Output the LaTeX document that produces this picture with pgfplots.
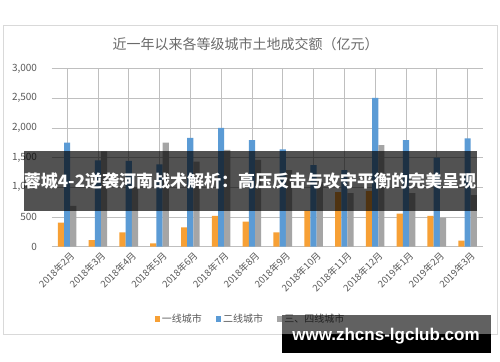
\documentclass[border=0pt]{standalone}
\usepackage{pgfplots}
\pgfplotsset{compat=1.18}
\usepackage{fontspec}
\setmainfont{Noto Sans CJK SC}
\newfontfamily\wmfont{Liberation Sans}
\definecolor{cO}{HTML}{F7A035}
\definecolor{cB}{HTML}{5B9BD5}
\definecolor{cG}{HTML}{A5A5A5}
\definecolor{grid}{HTML}{D9D9D9}
\definecolor{txt}{HTML}{595959}
\definecolor{ttl}{HTML}{6A6A6A}
\begin{document}
\begin{tikzpicture}
\path[use as bounding box, fill=white] (0,0) rectangle (500bp,362bp);
\draw[grid] (3bp,28bp) rectangle (497bp,337bp);
\node[text=ttl, font=\fontsize{14bp}{16bp}\selectfont] at (245.5bp,318bp) {近一年以来各等级城市土地成交额（亿元）};
\begin{axis}[
  at={(51.7bp,115.3bp)}, anchor=south west,
  scale only axis, width=431.3bp, height=178.2bp,
  ybar=0pt, bar width=6.2bp,
  xmin=-0.5, xmax=13.5, ymin=0, ymax=3000,
  ytick={0,500,...,3000},
  xtick=data,
  xticklabels={2018年2月,2018年3月,2018年4月,2018年5月,2018年6月,2018年7月,2018年8月,2018年9月,2018年10月,2018年11月,2018年12月,2019年1月,2019年2月,2019年3月},
  axis line style={draw=none},
  tick style={draw=none},
  ymajorgrids, grid style={grid, line width=0.8pt},
  /pgf/number format/assume math mode=true,
  /pgf/number format/1000 sep={,},
  yticklabel style={text=txt, font=\fontsize{10bp}{12bp}\selectfont, anchor=east, inner sep=0pt, xshift=-14.5bp},
  xticklabel style={text=txt, font=\fontsize{9.5bp}{11bp}\selectfont, rotate=45, anchor=east, inner sep=0pt, xshift=2bp, yshift=-6bp},
  legend columns=3,
  legend style={draw=none, fill=none, at={(0.461,-0.406)}, anchor=center,
    font=\fontsize{10bp}{12bp}\selectfont, text=txt,
    /tikz/every even column/.append style={column sep=12bp}},
  legend image code/.code={\fill[#1] (0bp,-2.6bp) rectangle (5.2bp,2.6bp);},
]
\addplot[fill=cO, draw=none] coordinates {(0,404) (1,110) (2,242) (3,57) (4,326) (5,517) (6,424) (7,242) (8,606) (9,920) (10,940) (11,555) (12,520) (13,101)};
\addplot[fill=cB, draw=none] coordinates {(0,1750) (1,1455) (2,1443) (3,1387) (4,1830) (5,2000) (6,1796) (7,1640) (8,1372) (9,1291) (10,2505) (11,1796) (12,1500) (13,1825)};
\addplot[fill=cG, draw=none] coordinates {(0,688) (1,1605) (2,1000) (3,1750) (4,1431) (5,1628) (6,1460) (7,1291) (8,1090) (9,900) (10,1710) (11,900) (12,488) (13,870)};
\legend{一线城市,二线城市,三、四线城市}
\end{axis}
\fill[black, opacity=0.68] (24bp,151bp) rectangle (477bp,211bp);
\node[text=white, font=\fontsize{17bp}{19bp}\selectfont\bfseries, inner sep=0pt] at (250bp,180.5bp) {蓉城4-2逆袭河南战术解析：高压反击与攻守平衡的完美呈现};
\fill[black, opacity=0.62] (282bp,28bp) rectangle (490.7bp,47bp);
\fill[black] (282bp,9.3bp) rectangle (490.7bp,28bp);
\node[text=white, font=\wmfont\fontsize{17bp}{19bp}\selectfont\bfseries, inner sep=0pt] at (386bp,25.5bp) {www.zhcns-lgclub.com};
\end{tikzpicture}
\end{document}
